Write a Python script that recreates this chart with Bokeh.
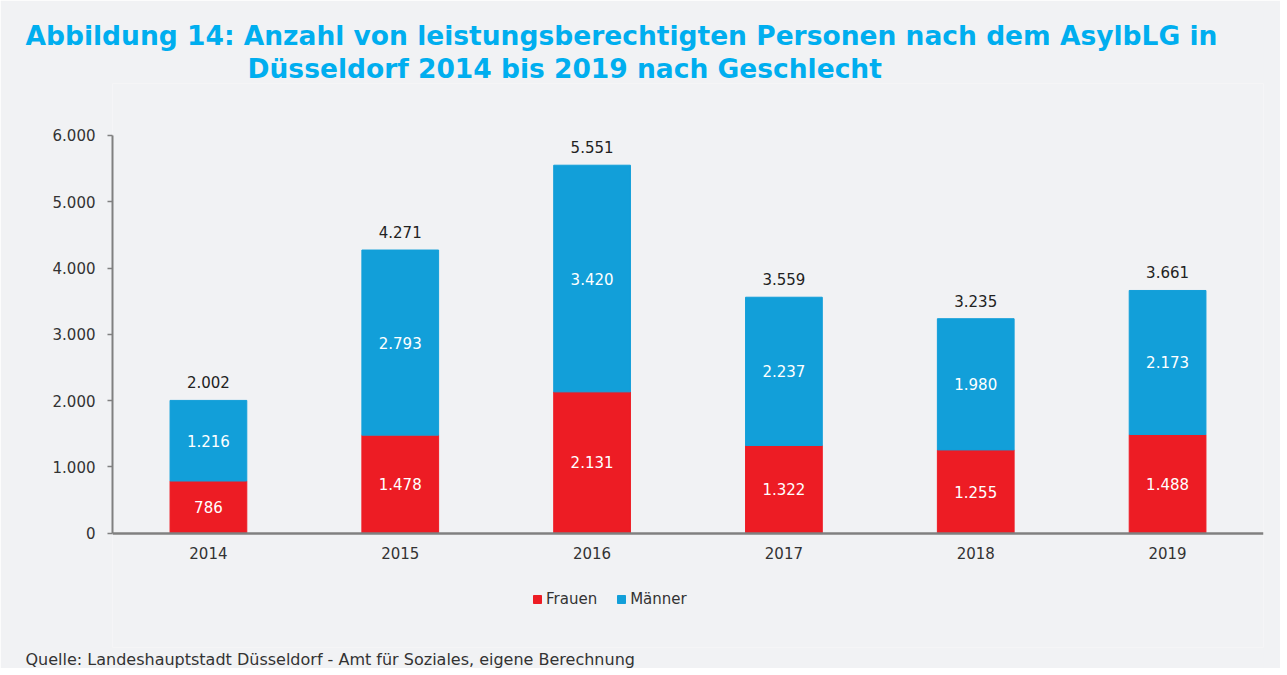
from bokeh.plotting import figure
from bokeh.models import (ColumnDataSource, FactorRange, Range1d, FixedTicker,
                          LabelSet, Title, Legend, LegendItem)
from bokeh.core.properties import value
from bokeh.embed import file_html
from bokeh.resources import INLINE

# ---- data ----
years = ["2014", "2015", "2016", "2017", "2018", "2019"]
frauen = [786, 1478, 2131, 1322, 1255, 1488]
maenner = [1216, 2793, 3420, 2237, 1980, 2173]
y_ticks = [0, 1000, 2000, 3000, 4000, 5000, 6000]
series_names = ["Frauen", "Männer"]

title_1 = "Abbildung 14: Anzahl von leistungsberechtigten Personen nach dem AsylbLG in"
title_2 = "Düsseldorf 2014 bis 2019 nach Geschlecht"
source_note = "Quelle: Landeshauptstadt Düsseldorf - Amt für Soziales, eigene Berechnung"

# ---- styles ----
BG = "#F1F2F4"
RED = "#ED1C24"
BLUE = "#129FD9"
TITLE_C = "#00AEEF"
AXIS_C = "#808080"
TEXT_C = "#333333"
FONT = "DejaVu Sans"

# ---- layout (pixels) ----
W, H = 1280, 668
FRAME_L, FRAME_R = 112, 1263
FRAME_T, FRAME_B = 83, 647.5      # plot frame (extended beyond the axes)
Y0_PX, YMAX_PX = 533, 135          # pixel rows of value 0 and of 6000
YMAX = 6000
units_per_px = YMAX / (Y0_PX - YMAX_PX)


def de(n):
    return f"{n:,}".replace(",", ".")


totals = [f + m for f, m in zip(frauen, maenner)]

src = ColumnDataSource(dict(
    year=years,
    Frauen=frauen,
    Maenner=maenner,
    y_f=[f / 2 for f in frauen],
    y_m=[f + m / 2 for f, m in zip(frauen, maenner)],
    y_t=totals,
    t_f=[de(v) for v in frauen],
    t_m=[de(v) for v in maenner],
    t_t=[de(v) for v in totals],
))

p = figure(
    x_range=FactorRange(factors=years, range_padding=0),
    y_range=Range1d(-(FRAME_B - Y0_PX) * units_per_px,
                    YMAX + (YMAX_PX - FRAME_T) * units_per_px),
    width=W, height=H,
    output_backend="svg", toolbar_location=None,
    min_border_left=FRAME_L, min_border_right=W - FRAME_R,
    min_border_top=FRAME_T, min_border_bottom=19,
    background_fill_color=BG, border_fill_color=BG,
    outline_line_color=None,
)
p.title = None

rs = p.vbar_stack(["Frauen", "Maenner"], x="year", width=0.4,
                  color=[RED, BLUE], source=src)

p.xgrid.grid_line_color = None
p.ygrid.grid_line_color = None

# y axis
p.yaxis.ticker = FixedTicker(ticks=y_ticks)
p.yaxis.bounds = (0, YMAX)
p.yaxis.major_label_overrides = {t: de(t) for t in y_ticks}
p.yaxis.axis_line_color = AXIS_C
p.yaxis.axis_line_width = 2
p.yaxis.major_tick_line_color = AXIS_C
p.yaxis.major_tick_line_width = 1.5
p.yaxis.major_tick_in = 0
p.yaxis.major_tick_out = 5
p.yaxis.minor_tick_line_color = None
p.yaxis.major_label_standoff = 12

# x axis drawn at value 0
p.xaxis.fixed_location = 0
p.xaxis.axis_line_color = AXIS_C
p.xaxis.axis_line_width = 2.5
p.xaxis.major_tick_line_color = None
p.xaxis.major_tick_in = 0
p.xaxis.major_tick_out = 0
p.xaxis.major_label_standoff = 14

for ax in (p.xaxis, p.yaxis):
    ax.major_label_text_font = FONT
    ax.major_label_text_font_size = "15px"
    ax.major_label_text_color = TEXT_C

# value labels
for ycol, tcol, col, off in (("y_f", "t_f", "white", 0),
                             ("y_m", "t_m", "white", 0),
                             ("y_t", "t_t", "#222222", 18)):
    p.add_layout(LabelSet(x="year", y=ycol, text=tcol, source=src,
                          y_offset=off,
                          text_align="center", text_baseline="middle",
                          text_font=value(FONT), text_font_size="15px",
                          text_color=col))

# legend (inside the extended frame, below the x axis)
legend = Legend(
    items=[LegendItem(label=series_names[0], renderers=[rs[0]]),
           LegendItem(label=series_names[1], renderers=[rs[1]])],
    orientation="horizontal", location=(532 - FRAME_L, FRAME_B - 608),
    glyph_width=10, glyph_height=10, label_standoff=4, spacing=19,
    padding=0, margin=0, border_line_color=None,
    background_fill_alpha=0,
    label_text_font=FONT, label_text_font_size="15px",
    label_text_color=TEXT_C,
)
p.add_layout(legend)

# source note
p.add_layout(Title(text=source_note, align="left", offset=25 - FRAME_L,
                   standoff=0, text_font=FONT, text_font_size="16px",
                   text_font_style="normal", text_color=TEXT_C), "below")

# two-line title (inner line first)
p.add_layout(Title(text=title_2, align="left", offset=247 - FRAME_L,
                   standoff=0, text_font=FONT, text_font_size="26.5px",
                   text_font_style="bold", text_color=TITLE_C), "above")
p.add_layout(Title(text=title_1, align="left", offset=25 - FRAME_L,
                   standoff=0, text_font=FONT, text_font_size="26.5px",
                   text_font_style="bold", text_color=TITLE_C), "above")

open("out.html", "w").write(file_html(p, INLINE))
